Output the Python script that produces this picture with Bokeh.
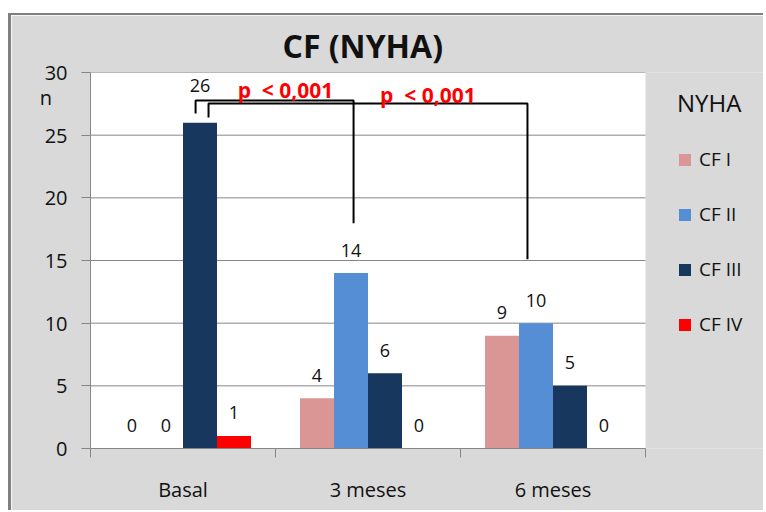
from bokeh.plotting import figure
from bokeh.models import (Range1d, FixedTicker, Legend, LegendItem, Label,
                          LabelSet, ColumnDataSource, AllLabels, BoxAnnotation)
from bokeh.embed import file_html
from bokeh.resources import INLINE
from bokeh.core.properties import value

# ---------------- data ----------------
categories = ["Basal", "3 meses", "6 meses"]
series = ["CF I", "CF II", "CF III", "CF IV"]
cf_i = [0, 4, 9]
cf_ii = [0, 14, 10]
cf_iii = [26, 6, 5]
cf_iv = [1, 0, 0]
y_ticks = [0, 5, 10, 15, 20, 25, 30]
p_label = "p\u00a0\u00a0<\u00a00,001"
chart_title = "CF (NYHA)"
y_title = "n"
y_title_at = 28
legend_title = "NYHA"
# significance brackets (data units): left x, right x, top y, left foot y, right foot y
bracket_left_x = [0.068, 0.138]
bracket_right_x = [0.922, 1.862]
bracket_top_y = [27.77, 27.53]
bracket_left_foot = [26.73, 26.41]
bracket_right_foot = [17.97, 15.1]
p_label_x = [0.554, 1.324]
p_label_y = [28.6, 28.17]

colors = ["#d99694", "#558ed5", "#17375e", "#ff0000"]
FONT = "Open Sans"
GRID = "#868686"
INK = "#111111"
BG = "#d9d9d9"

values = [cf_i, cf_ii, cf_iii, cf_iv]
n_cat = len(categories)

# layout: plot area 555 px for the categories, frame continues right to hold the legend
PLOT_W, FRAME_W = 555, 676
x_start = -0.5
x_end = x_start + n_cat * FRAME_W / PLOT_W

p = figure(width=755, height=497,
           x_range=Range1d(x_start, x_end), y_range=Range1d(0, 30),
           output_backend="svg", toolbar_location=None,
           min_border_left=79, min_border_right=0,
           min_border_top=56, min_border_bottom=64,
           background_fill_color=BG, border_fill_color=BG,
           outline_line_color=None)
p.styles = {"margin-left": "8px", "margin-top": "13px",
            "border-left": "3px solid #7f7f7f",
            "border-top": "2px solid #7f7f7f"}

# white plot area
p.add_layout(BoxAnnotation(left=-0.5, right=n_cat - 0.5, bottom=0, top=30,
                           fill_color="white", fill_alpha=1, line_color=None,
                           level="underlay"))

# title
p.title.text = chart_title
p.title.align = "left"
p.title.offset = 192
p.title.standoff = 12
p.title.text_font = FONT
p.title.text_font_size = "32px"
p.title.text_font_style = "bold"
p.title.text_color = INK

# y axis (the "n" title sits in the tick-label column)
p.yaxis.ticker = FixedTicker(ticks=sorted(y_ticks + [y_title_at]),
                             minor_ticks=y_ticks)
p.yaxis.major_label_overrides = {y_title_at: y_title + "\u00a0\u00a0\u00a0"}
p.yaxis.major_label_policy = AllLabels()
p.yaxis.axis_line_color = GRID
p.yaxis.major_tick_line_color = None
p.yaxis.major_tick_out = 9
p.yaxis.major_tick_in = 0
p.yaxis.minor_tick_line_color = GRID
p.yaxis.minor_tick_out = 9
p.yaxis.minor_tick_in = 0
p.yaxis.major_label_standoff = 14
p.yaxis.major_label_text_font = FONT
p.yaxis.major_label_text_font_size = "20px"
p.yaxis.major_label_text_color = INK

p.xaxis.bounds = (-0.5, n_cat - 0.5)
p.xaxis.ticker = FixedTicker(ticks=list(range(n_cat)),
                             minor_ticks=[i - 0.5 for i in range(n_cat + 1)])
p.xaxis.major_label_overrides = {i: c for i, c in enumerate(categories)}
p.xaxis.axis_line_color = GRID
p.xaxis.major_tick_line_color = None
p.xaxis.major_tick_out = 0
p.xaxis.minor_tick_line_color = GRID
p.xaxis.minor_tick_out = 9
p.xaxis.minor_tick_in = 0
p.xaxis.major_label_standoff = 18
p.xaxis.major_label_text_font = FONT
p.xaxis.major_label_text_font_size = "20px"
p.xaxis.major_label_text_color = INK

p.xgrid.visible = False
p.ygrid.visible = False
# horizontal gridlines across the plot area only
p.segment(x0=[-0.5] * len(y_ticks), x1=[n_cat - 0.5] * len(y_ticks),
          y0=y_ticks, y1=y_ticks, line_color=GRID, line_width=1)

# bars
bw = 0.1838
offsets = [(j - 1.5) * bw for j in range(len(series))]
top_value = max(max(v) for v in values)
renderers = []
lx, ly, lt, ldy = [], [], [], []
for j, (name, vals, col) in enumerate(zip(series, values, colors)):
    xs = [i + offsets[j] for i in range(n_cat)]
    src = ColumnDataSource(dict(x=xs, top=vals))
    r = p.vbar(x="x", top="top", width=bw, source=src,
               fill_color=col, line_color=None)
    renderers.append(r)
    for x, v in zip(xs, vals):
        lx.append(x)
        ly.append(v)
        lt.append(str(v))
        ldy.append(37 if v == top_value else 23)

lab_src = ColumnDataSource(dict(x=lx, y=ly, text=lt, dy=ldy))
p.add_layout(LabelSet(x="x", y="y", text="text", y_offset="dy", source=lab_src,
                      text_align="center", text_baseline="middle",
                      text_font=value(FONT), text_font_size="18px",
                      text_color=INK))

# brackets
bx, by = [], []
for i in range(len(bracket_left_x)):
    bx.append([bracket_left_x[i], bracket_left_x[i],
               bracket_right_x[i], bracket_right_x[i]])
    by.append([bracket_left_foot[i], bracket_top_y[i],
               bracket_top_y[i], bracket_right_foot[i]])
p.multi_line(xs=bx, ys=by, line_color="black", line_width=2)

for x, y in zip(p_label_x, p_label_y):
    p.add_layout(Label(x=x, y=y, text=p_label, text_align="center",
                       text_baseline="middle", text_font=FONT,
                       text_font_size="21px", text_font_style="bold",
                       text_color="#ff0000"))

# legend
legend = Legend(items=[LegendItem(label=s, renderers=[r])
                       for s, r in zip(series, renderers)],
                location=(587, 111), title=legend_title,
                title_text_font=FONT, title_text_font_size="24px",
                title_text_font_style="normal", title_text_color=INK,
                title_standoff=27,
                label_text_font=FONT, label_text_font_size="19px",
                label_text_color=INK, label_standoff=7,
                glyph_width=15, glyph_height=15, label_height=26,
                spacing=29, padding=0, margin=0,
                border_line_color=None, background_fill_alpha=0)
p.add_layout(legend)

open("out.html", "w").write(file_html(p, INLINE))
